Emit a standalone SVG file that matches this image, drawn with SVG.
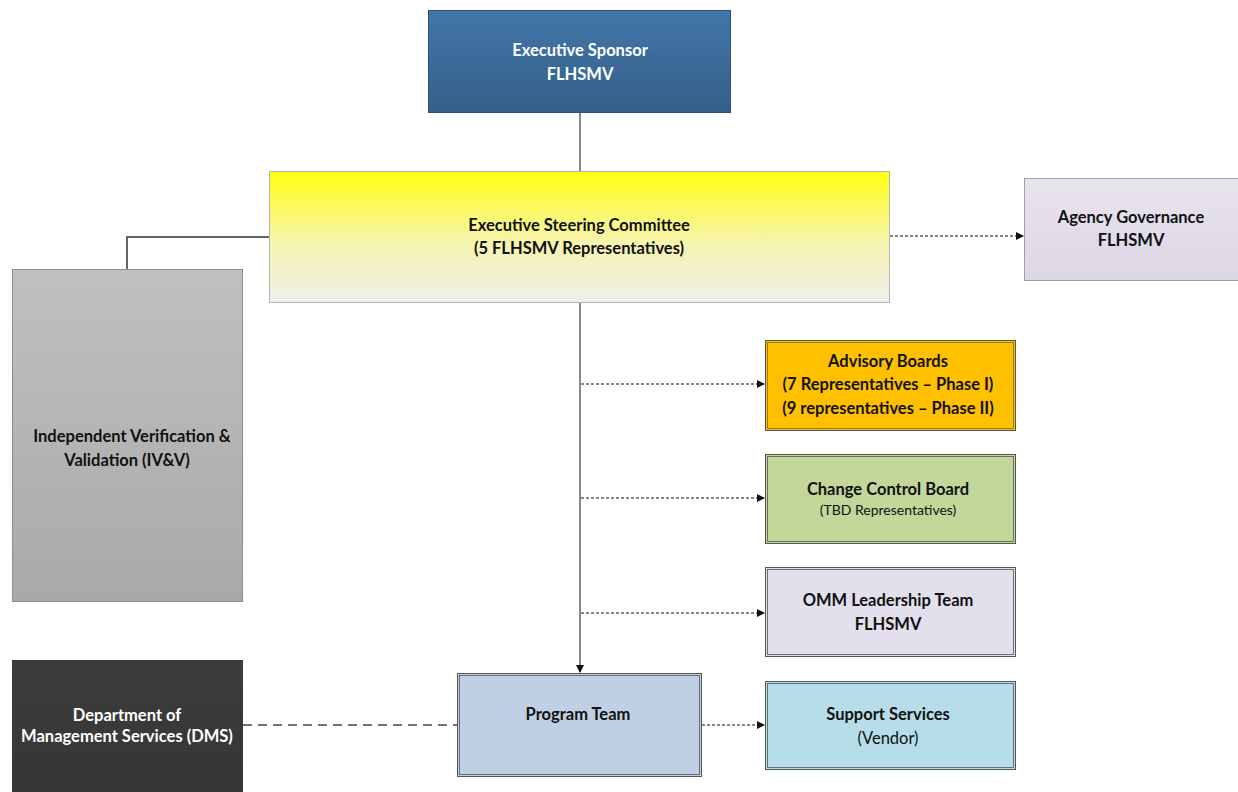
<svg xmlns="http://www.w3.org/2000/svg" width="1238" height="792" viewBox="0 0 1238 792">
<style>
text{font-family:Lato,"Liberation Sans",sans-serif;font-size:16.5px;font-weight:bold;text-anchor:middle;fill:#111}
.n{font-weight:normal}
.s{font-size:14px;font-weight:normal}
.w{fill:#fff}
.conn{fill:none;stroke:#111;stroke-width:1}
.dash{stroke-dasharray:3 2}
</style>
<defs>
<linearGradient id="gBlue" x1="0" y1="0" x2="0" y2="1"><stop offset="0" stop-color="#4277aa"/><stop offset="1" stop-color="#355f88"/></linearGradient>
<linearGradient id="gYel" x1="0" y1="0" x2="0" y2="1"><stop offset="0" stop-color="#ffff10"/><stop offset="0.55" stop-color="#f6f4b0"/><stop offset="1" stop-color="#efefeb"/></linearGradient>
<linearGradient id="gLav" x1="0" y1="0" x2="0" y2="1"><stop offset="0" stop-color="#e8e4ee"/><stop offset="1" stop-color="#ddd6e6"/></linearGradient>
<linearGradient id="gGray" x1="0" y1="0" x2="0" y2="1"><stop offset="0" stop-color="#c0c0c0"/><stop offset="1" stop-color="#a9a9a9"/></linearGradient>
<linearGradient id="gDark" x1="0" y1="0" x2="0" y2="1"><stop offset="0" stop-color="#3c3c3c"/><stop offset="1" stop-color="#363636"/></linearGradient>
<marker id="arr" markerWidth="8" markerHeight="8" refX="7" refY="4" orient="auto" markerUnits="userSpaceOnUse"><path d="M0,0 L8,4 L0,8 z" fill="#111"/></marker>
</defs>

<g id="connectors">
<line class="conn" x1="580" y1="112" x2="580" y2="171"/>
<line class="conn" x1="580" y1="302" x2="580" y2="672" marker-end="url(#arr)"/>
<line class="conn dash" x1="581" y1="384" x2="764" y2="384" marker-end="url(#arr)"/>
<line class="conn dash" x1="581" y1="498" x2="764" y2="498" marker-end="url(#arr)"/>
<line class="conn dash" x1="581" y1="613" x2="764" y2="613" marker-end="url(#arr)"/>
<line class="conn dash" x1="890" y1="236" x2="1023" y2="236" marker-end="url(#arr)"/>
<polyline points="269,237 127,237 127,269" fill="none" stroke="#333" stroke-width="1.5"/>
<line x1="243" y1="725" x2="457" y2="725" stroke="#444" stroke-width="1.5" stroke-dasharray="9 6"/>
<line class="conn dash" x1="702" y1="725" x2="764" y2="725" marker-end="url(#arr)"/>
</g>

<g id="executive-sponsor">
<rect x="428.5" y="10.5" width="302" height="102" fill="url(#gBlue)" stroke="#2d5075"/>
<text class="w" x="580" y="56">Executive Sponsor</text>
<text class="w" x="580" y="80">FLHSMV</text>
</g>

<g id="steering-committee">
<rect x="269.5" y="171.5" width="620" height="131" fill="url(#gYel)" stroke="#b4b4b4"/>
<text x="579" y="231">Executive Steering Committee</text>
<text x="579" y="254">(5 FLHSMV Representatives)</text>
</g>

<g id="agency-governance">
<rect x="1024.5" y="178.5" width="214" height="102" fill="url(#gLav)" stroke="#a0a0a0"/>
<text x="1131" y="223">Agency Governance</text>
<text x="1131" y="246">FLHSMV</text>
</g>

<g id="ivv">
<rect x="12.5" y="269.5" width="230" height="332" fill="url(#gGray)" stroke="#8c8c8c"/>
<text x="132" y="442">Independent Verification &amp;</text>
<text x="127" y="466">Validation (IV&amp;V)</text>
</g>

<g id="advisory-boards">
<rect x="765.5" y="340.5" width="250" height="90" fill="#ffc000" stroke="#555"/>
<rect x="767.5" y="342.5" width="246" height="86" fill="none" stroke="#7a6a2a" stroke-width="0.8"/>
<text x="888" y="367">Advisory Boards</text>
<text x="888" y="390">(7 Representatives – Phase I)</text>
<text x="888" y="414">(9 representatives – Phase II)</text>
</g>

<g id="change-control-board">
<rect x="765.5" y="454.5" width="250" height="89" fill="#c4d79b" stroke="#555"/>
<rect x="767.5" y="456.5" width="246" height="85" fill="none" stroke="#555" stroke-width="0.8"/>
<text x="888" y="495">Change Control Board</text>
<text class="s" x="888" y="515">(TBD Representatives)</text>
</g>

<g id="omm-leadership">
<rect x="765.5" y="567.5" width="250" height="89" fill="#e4dfec" stroke="#555"/>
<rect x="767.5" y="569.5" width="246" height="85" fill="none" stroke="#555" stroke-width="0.8"/>
<text x="888" y="606">OMM Leadership Team</text>
<text x="888" y="630">FLHSMV</text>
</g>

<g id="dms">
<rect x="12" y="660" width="231" height="132" fill="url(#gDark)"/>
<text class="w" x="127" y="721">Department of</text>
<text class="w" x="127" y="742">Management Services (DMS)</text>
</g>

<g id="program-team">
<rect x="457.5" y="673.5" width="244" height="103" fill="#c0d0e4" stroke="#555"/>
<rect x="459.5" y="675.5" width="240" height="99" fill="none" stroke="#555" stroke-width="0.8"/>
<text x="578" y="720">Program Team</text>
</g>

<g id="support-services">
<rect x="765.5" y="681.5" width="250" height="88" fill="#b7dde8" stroke="#555"/>
<rect x="767.5" y="683.5" width="246" height="84" fill="none" stroke="#555" stroke-width="0.8"/>
<text x="888" y="720">Support Services</text>
<text class="n" x="888" y="744">(Vendor)</text>
</g>
</svg>
